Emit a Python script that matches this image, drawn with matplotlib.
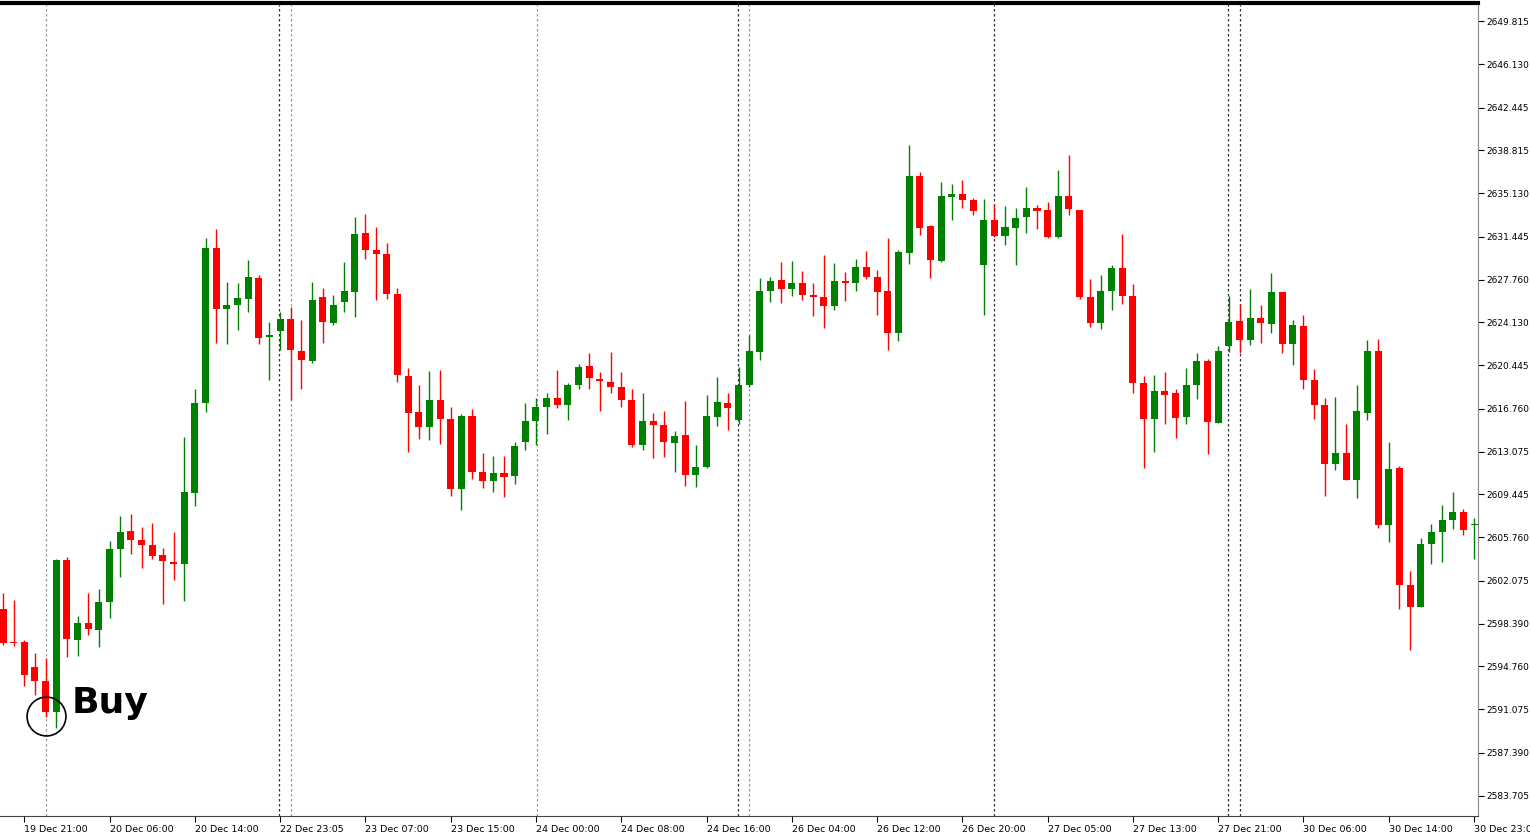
import numpy as np
import matplotlib
matplotlib.use("Agg")
import matplotlib.pyplot as plt

# OHLC (H1 candles)
opens = [2599.62, 2596.81, 2596.82, 2594.72, 2593.48, 2590.83, 2603.87, 2597.00, 2598.47, 2597.88,
         2600.23, 2604.76, 2606.31, 2605.52, 2605.08, 2604.26, 2603.67, 2603.53, 2609.54, 2617.24,
         2630.45, 2625.25, 2625.61, 2626.13, 2627.90, 2622.91, 2623.41, 2624.43, 2621.67, 2620.85,
         2626.29, 2624.08, 2625.85, 2626.72, 2631.72, 2630.31, 2629.94, 2626.54, 2619.58, 2616.43,
         2615.16, 2617.45, 2615.84, 2609.89, 2616.09, 2611.33, 2610.57, 2611.25, 2610.99, 2613.88,
         2615.67, 2616.86, 2617.62, 2617.03, 2618.81, 2620.42, 2619.32, 2619.07, 2618.64, 2617.45,
         2613.63, 2615.67, 2615.33, 2613.80, 2614.48, 2611.08, 2611.76, 2616.01, 2617.20, 2615.75,
         2618.81, 2621.61, 2626.80, 2627.73, 2626.97, 2627.48, 2626.46, 2626.29, 2625.52, 2627.65,
         2627.48, 2628.84, 2627.99, 2626.80, 2623.23, 2630.03, 2636.65, 2632.32, 2629.35, 2634.78,
         2635.04, 2634.53, 2629.01, 2632.83, 2631.47, 2632.15, 2633.08, 2633.85, 2633.68, 2631.38,
         2634.87, 2633.68, 2626.29, 2624.08, 2626.80, 2628.75, 2626.37, 2618.98, 2615.84, 2618.30,
         2618.05, 2616.01, 2618.81, 2620.85, 2615.50, 2622.12, 2624.25, 2622.63, 2624.50, 2624.00,
         2626.71, 2622.29, 2623.82, 2619.24, 2617.03, 2612.01, 2612.95, 2610.65, 2616.35, 2621.70,
         2606.83, 2611.67, 2601.73, 2599.86, 2605.22, 2606.24, 2607.26, 2607.94, 2606.79]
highs = [2601.03, 2600.38, 2597.00, 2595.89, 2595.45, 2603.90, 2604.05, 2599.06, 2601.03, 2601.32,
         2605.43, 2607.58, 2607.72, 2606.69, 2606.98, 2604.84, 2606.23, 2614.30, 2618.41, 2631.33,
         2632.06, 2627.60, 2627.46, 2629.46, 2628.19, 2624.14, 2624.96, 2625.40, 2624.28, 2627.54,
         2627.02, 2626.49, 2629.30, 2633.13, 2633.33, 2632.30, 2630.87, 2627.05, 2620.25, 2618.81,
         2620.00, 2620.08, 2616.86, 2616.26, 2616.69, 2612.95, 2612.69, 2612.69, 2613.88, 2617.20,
         2617.62, 2618.13, 2620.08, 2618.90, 2620.59, 2621.53, 2619.91, 2621.61, 2619.91, 2618.47,
         2618.05, 2616.35, 2616.52, 2614.82, 2617.37, 2613.63, 2617.96, 2619.49, 2618.05, 2620.34,
         2623.06, 2627.90, 2627.99, 2629.26, 2629.35, 2628.50, 2627.48, 2629.86, 2629.18, 2628.41,
         2629.52, 2630.20, 2628.58, 2631.30, 2630.28, 2639.29, 2636.99, 2632.40, 2636.06, 2635.89,
         2636.31, 2634.70, 2634.61, 2634.19, 2634.02, 2633.85, 2635.63, 2634.10, 2634.36, 2637.16,
         2638.44, 2633.68, 2627.82, 2628.16, 2629.01, 2631.64, 2627.39, 2619.57, 2619.66, 2619.91,
         2618.47, 2620.25, 2621.53, 2621.02, 2622.12, 2626.37, 2625.69, 2626.97, 2625.61, 2628.33,
         2626.71, 2624.33, 2624.76, 2620.17, 2617.62, 2617.71, 2615.41, 2618.81, 2622.63, 2622.72,
         2613.88, 2611.84, 2602.92, 2605.73, 2606.92, 2608.53, 2609.63, 2608.19, 2607.43]
lows = [2596.62, 2596.48, 2593.10, 2592.30, 2590.45, 2589.48, 2595.53, 2595.65, 2597.42, 2596.42,
        2598.88, 2602.35, 2604.34, 2603.14, 2603.96, 2600.06, 2602.12, 2600.35, 2608.45, 2616.44,
        2622.38, 2622.23, 2623.49, 2625.02, 2622.26, 2619.24, 2621.79, 2617.47, 2618.45, 2620.61,
        2622.38, 2623.93, 2625.02, 2624.60, 2629.52, 2626.05, 2626.12, 2619.07, 2613.03, 2614.14,
        2614.05, 2613.71, 2609.29, 2608.11, 2610.74, 2609.97, 2609.63, 2609.21, 2610.31, 2613.20,
        2613.63, 2614.56, 2616.77, 2615.75, 2618.39, 2618.39, 2616.52, 2618.05, 2616.86, 2613.46,
        2613.20, 2612.52, 2612.61, 2611.33, 2610.14, 2610.06, 2611.67, 2615.24, 2614.90, 2615.41,
        2618.56, 2620.93, 2625.86, 2625.78, 2626.37, 2626.03, 2624.67, 2623.65, 2625.18, 2625.95,
        2626.80, 2627.82, 2624.76, 2621.78, 2622.55, 2629.09, 2631.55, 2627.90, 2629.30, 2632.83,
        2633.85, 2633.25, 2624.76, 2631.40, 2630.71, 2629.01, 2631.72, 2632.06, 2631.30, 2631.30,
        2633.25, 2626.12, 2623.74, 2623.57, 2625.18, 2625.69, 2618.13, 2611.67, 2613.03, 2615.41,
        2614.22, 2615.41, 2617.54, 2612.86, 2615.50, 2621.61, 2621.53, 2622.21, 2622.38, 2623.23,
        2621.53, 2620.51, 2618.39, 2615.84, 2609.29, 2611.50, 2610.65, 2609.12, 2615.75, 2606.58,
        2605.39, 2599.69, 2596.13, 2599.86, 2603.52, 2603.69, 2606.49, 2605.98, 2603.94]
closes = [2596.77, 2596.72, 2593.98, 2593.53, 2590.83, 2603.82, 2597.06, 2598.47, 2597.94, 2600.23,
          2604.76, 2606.25, 2605.52, 2605.14, 2604.20, 2603.73, 2603.53, 2609.60, 2617.24, 2630.45,
          2625.25, 2625.63, 2626.19, 2627.95, 2622.82, 2622.96, 2624.38, 2621.73, 2620.91, 2625.99,
          2624.16, 2625.61, 2626.78, 2631.66, 2630.33, 2629.96, 2626.54, 2619.66, 2616.35, 2615.16,
          2617.45, 2615.84, 2609.89, 2616.09, 2611.33, 2610.57, 2611.25, 2610.91, 2613.54, 2615.67,
          2616.86, 2617.62, 2617.03, 2618.81, 2620.34, 2619.41, 2619.15, 2618.56, 2617.45, 2613.63,
          2615.67, 2615.33, 2613.88, 2614.39, 2611.08, 2611.76, 2616.09, 2617.28, 2616.77, 2618.81,
          2621.70, 2626.80, 2627.65, 2626.97, 2627.48, 2626.46, 2626.29, 2625.52, 2627.65, 2627.48,
          2628.84, 2627.99, 2626.71, 2623.23, 2630.11, 2636.57, 2632.15, 2629.43, 2634.87, 2635.04,
          2634.53, 2633.59, 2632.83, 2631.47, 2632.23, 2633.00, 2633.85, 2633.59, 2631.38, 2634.87,
          2633.76, 2626.29, 2624.08, 2626.80, 2628.75, 2626.37, 2618.90, 2615.84, 2618.30, 2617.96,
          2615.92, 2618.81, 2620.85, 2615.58, 2621.70, 2624.16, 2622.63, 2624.50, 2624.08, 2626.71,
          2622.29, 2623.91, 2619.24, 2617.03, 2612.01, 2612.95, 2610.65, 2616.52, 2621.70, 2606.83,
          2611.59, 2601.73, 2599.86, 2605.22, 2606.24, 2607.26, 2607.94, 2606.41, 2606.83]

time_labels = ["19 Dec 21:00", "20 Dec 06:00", "20 Dec 14:00", "22 Dec 23:05", "23 Dec 07:00",
               "23 Dec 15:00", "24 Dec 00:00", "24 Dec 08:00", "24 Dec 16:00", "26 Dec 04:00",
               "26 Dec 12:00", "26 Dec 20:00", "27 Dec 05:00", "27 Dec 13:00", "27 Dec 21:00",
               "30 Dec 06:00", "30 Dec 14:00", "30 Dec 23:01"]
price_ticks = [2583.705, 2587.390, 2591.075, 2594.760, 2598.390, 2602.075, 2605.760, 2609.445,
               2613.075, 2616.760, 2620.445, 2624.130, 2627.760, 2631.445, 2635.130, 2638.815,
               2642.445, 2646.130, 2649.815]
# session separators (candle index positions)
black_seps = [25.9, 68.95, 92.96, 114.9, 116.0]
gray_seps = [4.0, 27.0, 50.1, 69.98]
buy_index = 4
buy_price = 2590.5

o = np.array(opens); h = np.array(highs); l = np.array(lows); c = np.array(closes)
x = np.arange(len(o))
up = c >= o
cols = np.where(up, "#008000", "#ff0000")

fig = plt.figure(figsize=(15.3, 8.34), dpi=100)
ax = fig.add_axes([0.0, 0.021, 0.966, 0.975])

for s in black_seps:
    ax.axvline(s, color="#333333", lw=0.9, ls=(0, (2, 2)), zorder=1)
for s in gray_seps:
    ax.axvline(s, color="#999999", lw=0.9, ls=(0, (2, 2)), zorder=1)

ax.vlines(x, l, h, colors=cols, lw=1.0, zorder=2)
ax.bar(x, np.maximum(np.abs(c - o), 0.12), bottom=np.minimum(o, c), width=0.66,
       color=cols, linewidth=0, zorder=3)

ax.plot([buy_index], [buy_price], marker="o", markersize=28, markerfacecolor="none",
        markeredgecolor="black", markeredgewidth=1.2, zorder=4)
ax.text(buy_index + 2.45, buy_price + 1.1, "Buy", fontsize=26, fontweight="heavy",
        va="center", ha="left", zorder=5)

ax.set_xlim(-0.28, 138.37)
ax.set_ylim(2581.94, 2651.35)

ax.yaxis.tick_right()
ax.set_yticks(price_ticks)
ax.set_yticklabels([f"{p:.3f}" for p in price_ticks], fontsize=6.5)
ax.set_xticks(2 + 8 * np.arange(len(time_labels)))
ax.set_xticklabels(time_labels, fontsize=6.8, ha="left")
ax.tick_params(axis="x", length=4, pad=2, width=0.8)
ax.tick_params(axis="y", length=4, pad=2, width=0.8)

ax.spines["left"].set_visible(False)
ax.spines["top"].set_linewidth(3)
ax.spines["right"].set_color("#888888")
ax.spines["bottom"].set_color("#444444")

fig.savefig("out.png", dpi=100)
